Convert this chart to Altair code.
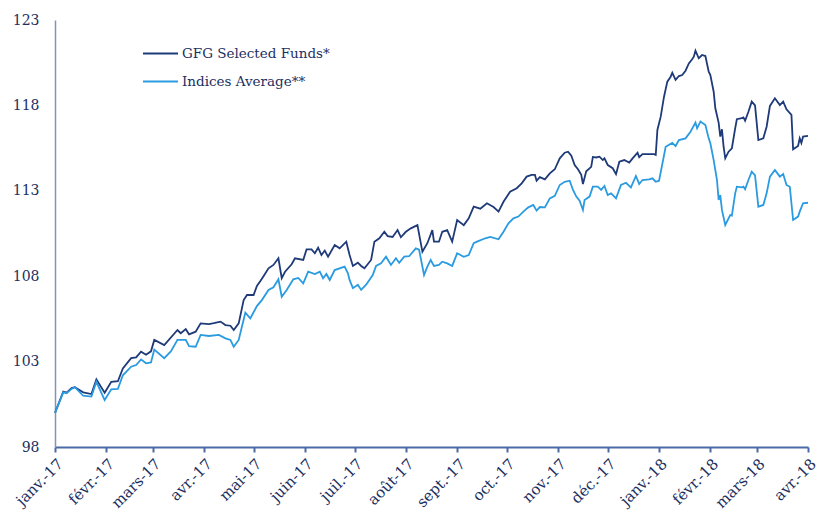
import altair as alt
import pandas as pd

# ---- data ----
gfg_days = [0, 5, 7, 10, 12, 17, 22, 25, 30, 34, 38, 41, 46, 49, 52, 55, 58, 60, 66, 74, 76, 79, 81, 85, 88,
            93, 96, 100, 103, 106, 108, 111, 114, 116, 120, 122, 124, 126, 129, 132, 135, 137, 139, 143, 145,
            150, 152, 155, 157, 159, 161, 163, 165, 169, 172, 176, 178, 180, 183, 185, 187, 191, 193, 196, 199,
            201, 204, 207, 209, 212, 215, 219, 222, 225, 228, 229, 232, 234, 237, 240, 243, 247, 250, 253, 257,
            261, 265, 268, 271, 275, 279, 282, 285, 288, 290, 291, 293, 296, 299, 302, 305, 308, 310, 312, 314,
            316, 318, 319, 321, 324, 325, 327, 329, 331, 332, 334, 337, 339, 341, 344, 347, 349, 352, 353, 355,
            362, 363, 364, 366, 368, 370, 372, 373, 375, 377, 379, 381, 383, 385, 386, 387, 389, 391, 393, 395,
            396, 398, 399, 401, 402, 403, 404, 405, 407, 409, 411, 412, 415, 416, 417, 419, 421, 423, 425, 428,
            430, 432, 435, 438, 440, 442, 445, 446, 449, 450, 451, 452, 455]
gfg_values = [100.0, 101.24, 101.18, 101.45, 101.5, 101.2, 101.1, 101.96, 101.18, 101.82, 101.85, 102.6,
              103.2, 103.25, 103.58, 103.4, 103.6, 104.27, 103.97, 104.85, 104.66, 104.9, 104.6, 104.75,
              105.24, 105.2, 105.25, 105.34, 105.14, 105.1, 104.85, 105.24, 106.6, 106.9, 106.9, 107.43,
              107.7, 108.0, 108.46, 108.66, 109.05, 107.88, 108.26, 108.7, 109.05, 108.95, 109.57, 109.57,
              109.34, 109.67, 109.24, 109.5, 109.14, 109.83, 109.63, 110.02, 109.24, 108.6, 108.79, 108.6,
              108.46, 108.95, 110.02, 110.22, 110.6, 110.35, 110.3, 110.7, 110.28, 110.6, 110.8, 110.99,
              109.43, 109.93, 110.7, 110.02, 110.02, 110.6, 110.7, 110.02, 111.29, 110.99, 111.39, 112.07,
              111.95, 112.27, 112.05, 111.78, 112.36, 112.95, 113.15, 113.44, 113.83, 113.93, 113.93, 113.59,
              113.8, 113.67, 114.02, 114.26, 114.9, 115.23, 115.29, 115.05, 114.51, 114.26, 113.93, 113.4,
              114.14, 114.4, 114.98, 114.95, 115.0, 114.8, 114.9, 114.51, 114.32, 113.97, 114.7, 114.8,
              114.65, 114.9, 115.23, 114.97, 115.15, 115.15, 115.1, 116.56, 117.34, 118.51, 119.39, 119.68,
              119.91, 119.49, 119.72, 119.78, 120.03, 120.46, 120.7, 120.85, 121.2, 120.76, 120.95, 120.89,
              119.97, 119.78, 118.8, 117.83, 116.99, 116.17, 116.6, 115.58, 114.9, 115.29, 115.49, 116.66,
              117.19, 117.25, 117.3, 117.1, 117.63, 118.22, 118.0, 115.97, 116.07, 116.75, 117.97, 118.42,
              118.02, 118.22, 117.77, 117.44, 115.43, 115.62, 116.07, 115.8, 116.17, 116.21]

idx_days = [0, 5, 7, 10, 12, 17, 22, 25, 30, 34, 38, 41, 46, 49, 52, 55, 58, 60, 66, 70, 74, 79, 81, 85, 88,
            93, 99, 103, 106, 108, 111, 115, 118, 122, 125, 129, 132, 135, 137, 140, 144, 147, 150, 153, 157,
            160, 162, 164, 166, 169, 175, 177, 178, 180, 183, 185, 188, 192, 194, 197, 200, 203, 206, 208, 211,
            214, 218, 220, 223, 225, 227, 229, 232, 234, 237, 240, 243, 247, 250, 253, 255, 260, 263, 268, 271,
            274, 277, 280, 283, 286, 289, 291, 293, 296, 299, 302, 305, 308, 311, 313, 315, 317, 319, 320, 323,
            325, 328, 330, 332, 334, 336, 339, 342, 345, 348, 351, 353, 355, 359, 361, 363, 365, 369, 373, 375,
            377, 381, 384, 387, 388, 390, 393, 395, 396, 398, 400, 401, 402, 403, 405, 407, 408, 409, 411, 412,
            415, 416, 417, 419, 421, 423, 425, 428, 430, 432, 435, 438, 440, 442, 444, 446, 449, 450, 452, 455]
idx_values = [100.0, 101.2, 101.15, 101.4, 101.5, 101.0, 100.95, 101.82, 100.75, 101.38, 101.4, 102.2,
              102.7, 102.8, 103.13, 102.9, 102.95, 103.7, 103.2, 103.6, 104.27, 104.27, 103.9, 103.87,
              104.56, 104.5, 104.56, 104.36, 104.27, 103.87, 104.27, 105.86, 105.53, 106.25, 106.6, 107.19,
              107.35, 107.82, 106.8, 107.19, 107.82, 107.9, 107.58, 108.27, 108.13, 108.27, 107.88, 108.13,
              107.78, 108.36, 108.56, 108.17, 107.78, 107.3, 107.5, 107.2, 107.5, 108.07, 108.6, 108.75,
              109.14, 108.66, 109.05, 108.79, 109.14, 109.17, 109.63, 109.55, 108.07, 108.56, 108.95, 108.6,
              108.66, 108.85, 108.75, 108.6, 109.34, 109.14, 109.24, 109.93, 110.02, 110.22, 110.3, 110.16,
              110.6, 111.1, 111.39, 111.49, 111.78, 112.03, 112.17, 111.84, 112.05, 112.03, 112.56, 112.7,
              113.34, 113.53, 113.59, 113.05, 112.66, 112.42, 111.88, 112.46, 112.66, 113.24, 113.24, 113.05,
              113.28, 112.75, 112.85, 112.56, 113.34, 113.47, 113.2, 113.87, 113.4, 113.63, 113.67, 113.73,
              113.53, 113.59, 115.58, 115.8, 115.62, 115.97, 116.07, 116.46, 116.99, 116.66, 117.05, 116.85,
              116.07, 115.78, 114.8, 113.63, 112.46, 112.75, 111.88, 111.0, 111.39, 111.58, 111.55, 112.85,
              113.24, 113.2, 113.24, 113.09, 113.63, 114.12, 113.9, 112.07, 112.17, 112.85, 113.83, 114.22,
              113.83, 113.98, 113.34, 113.24, 111.29, 111.49, 111.78, 112.27, 112.3]

series_names = ["GFG Selected Funds*", "Indices Average**"]
series_colors = ["#1f3a78", "#2a9be0"]
month_labels = ["janv.", "févr.", "mars", "avr.", "mai", "juin", "juil.", "août", "sept.", "oct.", "nov.", "déc."]
y_ticks = [98, 103, 108, 113, 118, 123]
start = pd.Timestamp("2017-01-01")

def build(days, values, name):
    d = start + pd.to_timedelta(days, unit="D")
    return pd.DataFrame({"date": d.strftime("%Y-%m-%d"), "value": values, "series": name})

df = pd.concat([build(gfg_days, gfg_values, series_names[0]),
                build(idx_days, idx_values, series_names[1])], ignore_index=True)

tick_dates = [alt.DateTime(year=2017 + (m // 12), month=(m % 12) + 1, date=1, utc=True) for m in range(16)]
label_js = "[" + ",".join("'" + s + "'" for s in month_labels) + "]"

FONT = "DejaVu Serif"
NAVY = "#1c2f5f"

chart = alt.Chart(df).mark_line(strokeWidth=1.8).encode(
    x=alt.X("date:T",
            scale=alt.Scale(type="utc",
                            domain=[alt.DateTime(year=2017, month=1, date=1, utc=True),
                                    alt.DateTime(year=2018, month=4, date=1, utc=True)]),
            axis=alt.Axis(values=tick_dates, title=None, grid=False,
                          labelExpr=label_js + "[utcmonth(datum.value)] + '-' + utcFormat(datum.value, '%y')",
                          labelAngle=-45, labelFont=FONT, labelFontSize=15, labelColor=NAVY,
                          domainColor="#4a6aa6", domainWidth=2, tickColor="#4a6aa6", tickWidth=2,
                          tickSize=5, labelPadding=4, labelOverlap=False)),
    y=alt.Y("value:Q",
            scale=alt.Scale(domain=[98, 123], nice=False, zero=False),
            axis=alt.Axis(values=y_ticks, title=None, grid=False, ticks=False,
                          labelFont=FONT, labelFontSize=14, labelColor=NAVY,
                          domainColor="#8593b5", domainWidth=1.5, labelPadding=16)),
    color=alt.Color("series:N",
                    scale=alt.Scale(domain=series_names, range=series_colors),
                    legend=alt.Legend(title=None, orient="none", legendX=87, legendY=15,
                                      symbolType="stroke", symbolSize=1225, symbolStrokeWidth=1.8,
                                      labelFont=FONT, labelFontSize=13.5, labelColor=NAVY,
                                      labelOffset=3, rowPadding=3)),
    order=alt.Order("series:N", sort="descending"),
).properties(
    width=753, height=427,
    autosize=alt.AutoSizeParams(type="none"),
    padding={"left": 47, "top": 12, "right": 14, "bottom": 71},
).configure_view(stroke=None)

chart.save("out.html", embed_options={"renderer": "svg", "actions": False})
